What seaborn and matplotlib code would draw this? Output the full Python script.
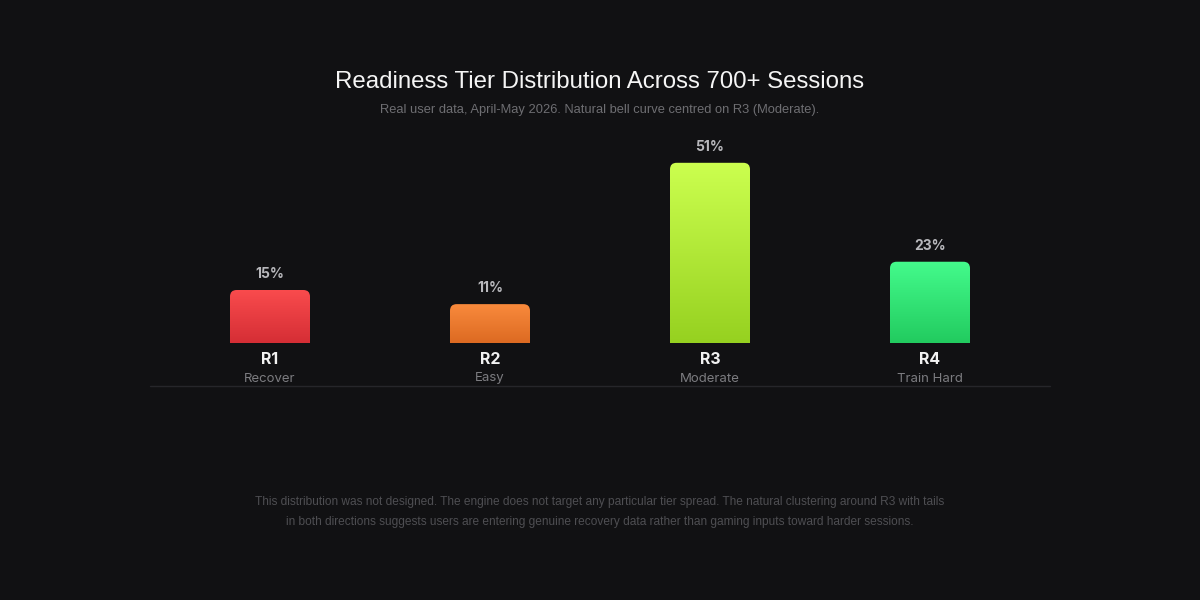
import numpy as np
import pandas as pd
import matplotlib
matplotlib.use("Agg")
import matplotlib.pyplot as plt
import seaborn as sns
from matplotlib.patches import FancyBboxPatch
from matplotlib.colors import LinearSegmentedColormap

# data
tiers = ["R1", "R2", "R3", "R4"]
tier_names = ["Recover", "Easy", "Moderate", "Train Hard"]
shares = [15, 11, 51, 23]

top_colors = ["#f94b4d", "#f98a3c", "#ccff4f", "#44fb8c"]
bottom_colors = ["#d52e35", "#dc6a22", "#96d120", "#22cb5f"]

BG = "#111113"
LABEL_FONT = ["Inter", "DejaVu Sans"]

sns.set_theme(style="dark")
plt.rcParams["font.family"] = ["Liberation Sans", "DejaVu Sans"]

df = pd.DataFrame({"tier": tiers, "share": shares})

fig = plt.figure(figsize=(12, 6), dpi=100, facecolor=BG)
# axes: x from 150px to 1050px, y baseline at 343px, top at 131px (0..60)
ax = fig.add_axes([150 / 1200, 1 - 343 / 600, 900 / 1200, 212 / 600])
ax.set_facecolor(BG)

bar_w = 80 / 220
sns.barplot(data=df, x="tier", y="share", hue="tier", palette=bottom_colors,
            width=bar_w, legend=False, ax=ax, saturation=1)

ax.set_xlim(-120 / 220, 3 + 120 / 220)
ax.set_ylim(0, 60)

px = 60 / 212  # data units per pixel vertically

# gradient fill with rounded top corners
for i, patch in enumerate(ax.patches):
    x0 = patch.get_x()
    w = patch.get_width()
    h = patch.get_height()
    patch.set_visible(False)
    clip = FancyBboxPatch((x0, -5), w, h + 5,
                          boxstyle="round,pad=0,rounding_size=0.03",
                          mutation_aspect=60 / 212 * 220,
                          transform=ax.transData, facecolor="none",
                          edgecolor="none")
    ax.add_patch(clip)
    cmap = LinearSegmentedColormap.from_list("g", [bottom_colors[i], top_colors[i]])
    grad = np.linspace(0, 1, 256).reshape(-1, 1)
    im = ax.imshow(grad, cmap=cmap, aspect="auto", origin="lower",
                   extent=(x0, x0 + w, 0, h), zorder=2)
    im.set_clip_path(clip)

    cx = x0 + w / 2
    ax.text(cx, h + 16 * px, f"{shares[i]}%", ha="center", va="center",
            color="#b8b8bc", fontsize=10, fontweight="bold",
            family=LABEL_FONT, zorder=3)

ax.set_xticks([])
ax.set_yticks([])
ax.set_xlabel("")
ax.set_ylabel("")
for s in ax.spines.values():
    s.set_visible(False)
ax.set_xlim(-120 / 220, 3 + 120 / 220)

# tier labels below bars
for i, (t, n) in enumerate(zip(tiers, tier_names)):
    ax.text(i, -16 * px, t, ha="center", va="center", color="#f2f2f2",
            fontsize=11.5, fontweight="bold", family=LABEL_FONT, clip_on=False)
    ax.text(i, -35.5 * px, n, ha="center", va="center", color="#7c7c80",
            fontsize=9.5, family=LABEL_FONT, clip_on=False)

# separator line
fig.add_artist(plt.Line2D([150 / 1200, 1050 / 1200], [1 - 386 / 600, 1 - 386 / 600],
                          color="#26262a", linewidth=1))

fig.text(0.5, 1 - 82 / 600, "Readiness Tier Distribution Across 700+ Sessions",
         ha="center", va="center", color="#f5f5f5", fontsize=17.3)
fig.text(0.5, 1 - 109.5 / 600,
         "Real user data, April-May 2026. Natural bell curve centred on R3 (Moderate).",
         ha="center", va="center", color="#6e6e72", fontsize=9.3)

fig.text(0.5, 1 - 501.5 / 600,
         "This distribution was not designed. The engine does not target any particular tier spread. "
         "The natural clustering around R3 with tails",
         ha="center", va="center", color="#4e4e52", fontsize=8.6)
fig.text(0.5, 1 - 522.5 / 600,
         "in both directions suggests users are entering genuine recovery data rather than "
         "gaming inputs toward harder sessions.",
         ha="center", va="center", color="#4e4e52", fontsize=8.6)

fig.savefig("out.png", dpi=100, facecolor=BG)
